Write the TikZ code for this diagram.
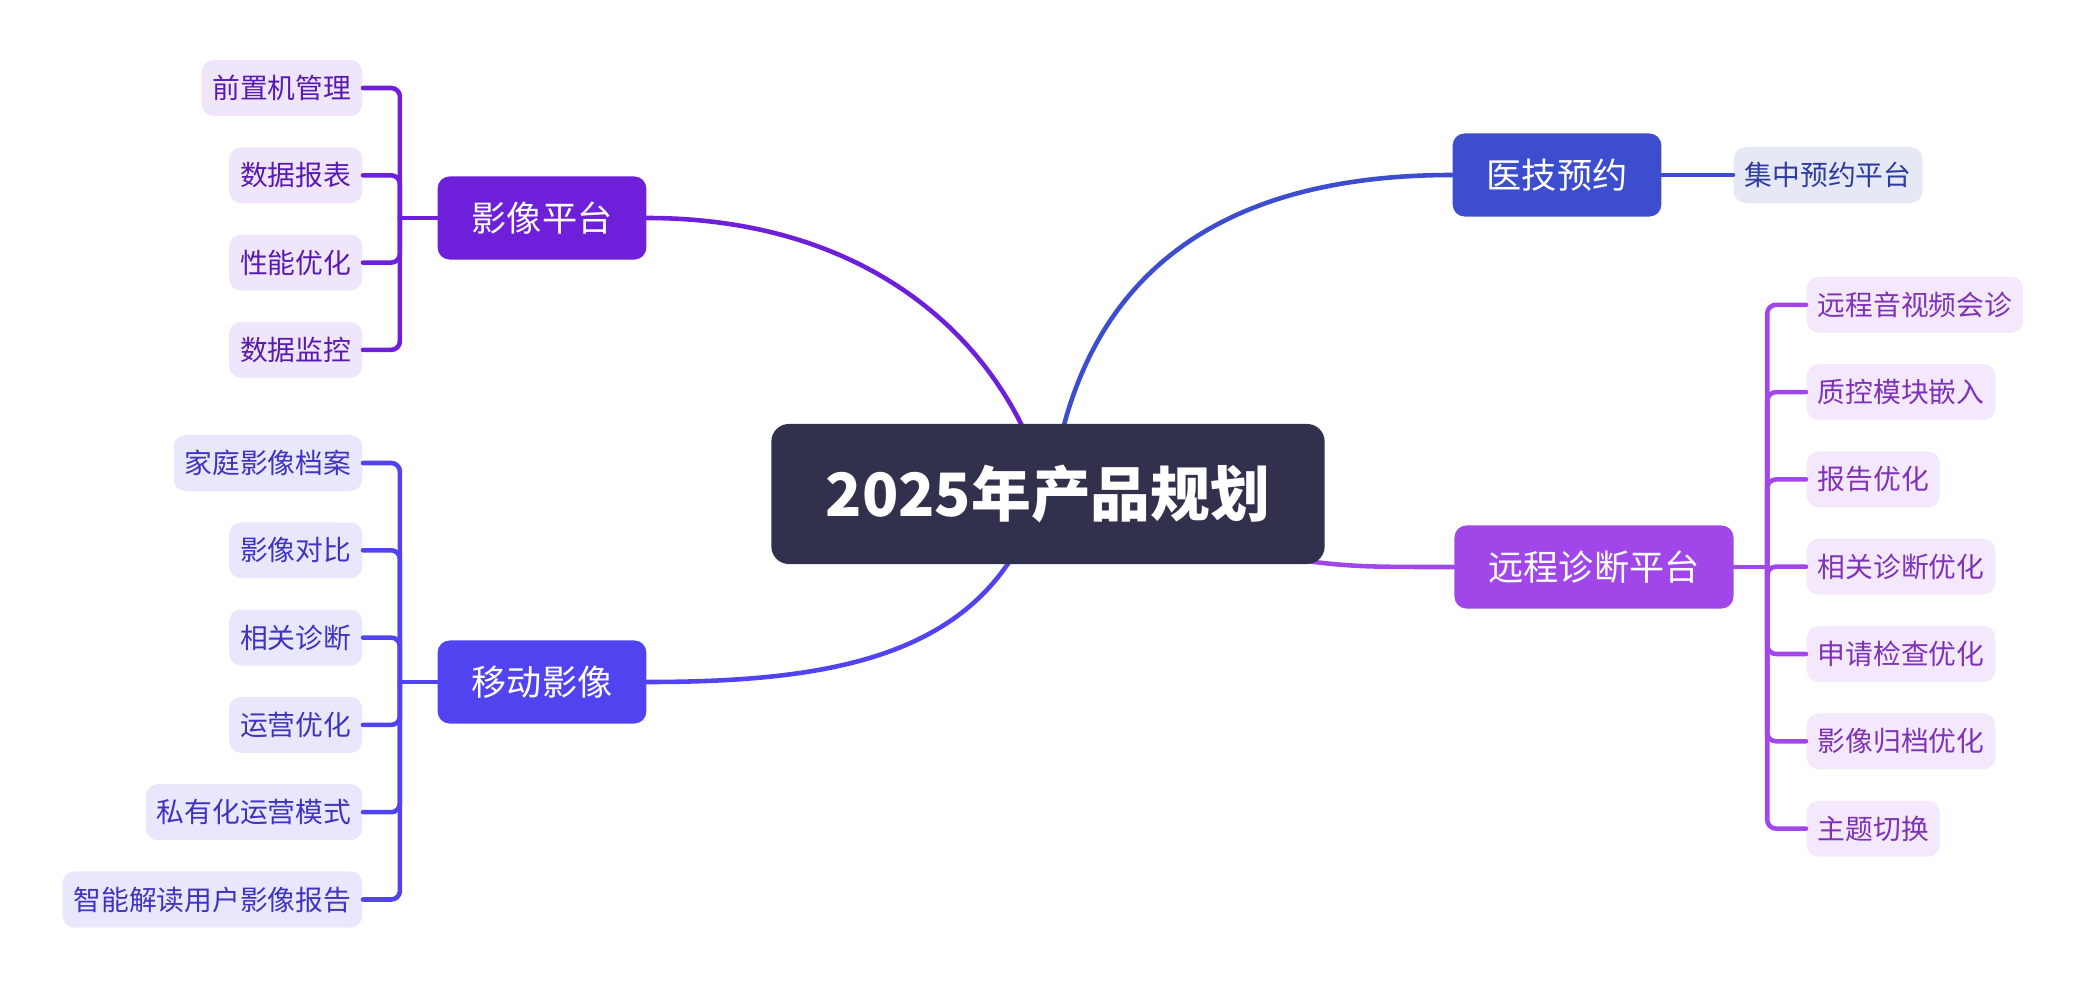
\documentclass[tikz,border=0pt]{standalone}
\usepackage{fontspec}
\setmainfont{Noto Sans CJK SC}
\usetikzlibrary{backgrounds}

\definecolor{rootcol}{RGB}{50,49,77}
\definecolor{yxcol}{RGB}{110,31,217}
\definecolor{yxleaf}{RGB}{239,230,251}
\definecolor{yxtext}{RGB}{88,26,176}
\definecolor{ydcol}{RGB}{81,67,240}
\definecolor{ydleaf}{RGB}{233,231,252}
\definecolor{ydtext}{RGB}{62,52,190}
\definecolor{yjcol}{RGB}{60,77,205}
\definecolor{yjleaf}{RGB}{230,232,246}
\definecolor{yjtext}{RGB}{46,60,158}
\definecolor{yccol}{RGB}{161,70,232}
\definecolor{ycleaf}{RGB}{243,232,252}
\definecolor{yctext}{RGB}{126,50,184}

\tikzset{
  root/.style={fill=rootcol, text=white, rounded corners=5pt, minimum width=5.53cm,
    minimum height=1.4cm, font=\fontsize{17}{20}\selectfont\bfseries},
  branch/.style={fill=#1, text=white, rounded corners=3.4pt, minimum height=0.83cm,
    inner xsep=0.34cm, font=\fontsize{10}{12}\selectfont},
  leaf/.style 2 args={fill=#1, text=#2, rounded corners=3.4pt, minimum height=0.56cm,
    inner xsep=0.11cm, font=\fontsize{7.9}{9}\selectfont},
  link/.style={line width=1.3pt, line cap=round},
}

\begin{document}
\begin{tikzpicture}[x=0.01cm, y=-0.01cm]
    \useasboundingbox (0,0) rectangle (2084,988);

    \node[root] (root) at (1048,494) {2025年产品规划};
    \node[branch=yxcol] (yx) at (542,218) {影像平台};
    \node[branch=ydcol] (yd) at (542,682) {移动影像};
    \node[branch=yjcol] (yj) at (1557,175) {医技预约};
    \node[branch=yccol] (yc) at (1594,567) {远程诊断平台};

    \foreach \t [count=\i] in {前置机管理,数据报表,性能优化,数据监控}
        \node[leaf={yxleaf}{yxtext}, anchor=east] (yx\i) at (363,{0.7+87.3*\i}) {\t};
    \foreach \t [count=\i] in {家庭影像档案,影像对比,相关诊断,运营优化,私有化运营模式,智能解读用户影像报告}
        \node[leaf={ydleaf}{ydtext}, anchor=east] (yd\i) at (363,{375.7+87.3*\i}) {\t};
    \foreach \t [count=\i] in {远程音视频会诊,质控模块嵌入,报告优化,相关诊断优化,申请检查优化,影像归档优化,主题切换}
        \node[leaf={ycleaf}{yctext}, anchor=west] (yc\i) at (1806,{217.5+87.3*\i}) {\t};
    \node[leaf={yjleaf}{yjtext}, anchor=west] (yj1) at (1733,175) {集中预约平台};

    \begin{scope}[on background layer]
        \draw[link, yxcol] (1033,450) .. controls (980,320) and (850,218) .. (yx.east);
        \draw[link, yjcol] (1058,450) .. controls (1100,250) and (1250,175) .. (yj.west);
        \draw[link, ydcol] (1022,540) .. controls (960,660) and (820,682) .. (yd.east);
        \draw[link, yccol] (1260,555) .. controls (1350,567) .. (yc.west);
    \end{scope}

    \draw[link, yxcol] (yx.west) -- ++(-37,0) coordinate (yxj);
    \draw[link, ydcol] (yd.west) -- ++(-37,0) coordinate (ydj);
    \draw[link, yccol] (yc.east) -- ++(33,0) coordinate (ycj);
    \foreach \i in {1,...,4}
        \draw[link, yxcol, rounded corners=2.5pt] (yxj) |- (yx\i.east);
    \foreach \i in {1,...,6}
        \draw[link, ydcol, rounded corners=2.5pt] (ydj) |- (yd\i.east);
    \foreach \i in {1,...,7}
        \draw[link, yccol, rounded corners=2.5pt] (ycj) |- (yc\i.west);
    \draw[link, yjcol] (yj.east) -- (yj1.west);
\end{tikzpicture}
\end{document}
